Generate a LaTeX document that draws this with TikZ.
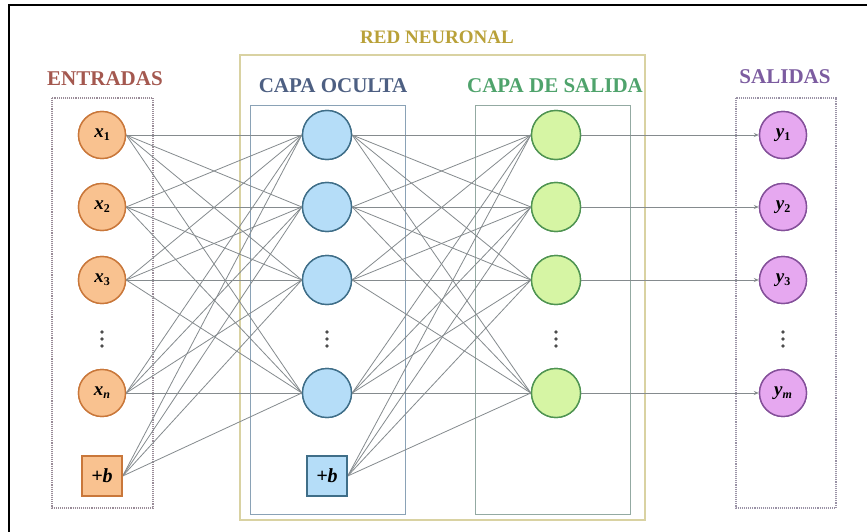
\documentclass[tikz,border=0pt]{standalone}
\usepackage{fontspec}
\setmainfont{Liberation Serif}
\usetikzlibrary{arrows.meta}
\definecolor{inF}{HTML}{F9C290}
\definecolor{inB}{HTML}{C9773A}
\definecolor{hidF}{HTML}{B5DDF8}
\definecolor{hidB}{HTML}{3F6E88}
\definecolor{outF}{HTML}{D6F5A4}
\definecolor{outB}{HTML}{4F9452}
\definecolor{yF}{HTML}{E6A8F0}
\definecolor{yB}{HTML}{84509A}
\definecolor{conn}{HTML}{858B8E}
\definecolor{labIn}{HTML}{A4584F}
\definecolor{labRed}{HTML}{B9A138}
\definecolor{labHid}{HTML}{4D5F82}
\definecolor{labOut}{HTML}{4FA36C}
\definecolor{labY}{HTML}{7C5CA0}
\definecolor{boxIn}{HTML}{9A8C98}
\definecolor{boxRed}{HTML}{D9D2A2}
\definecolor{boxHid}{HTML}{8AA2B6}
\definecolor{boxOut}{HTML}{93AAA2}
\definecolor{boxY}{HTML}{9A92A6}
\newcommand{\nv}[2]{\textbf{\textit{#1}}\raisebox{-0.35ex}{\fontsize{12}{12}\selectfont\bfseries #2}}
\begin{document}
\begin{tikzpicture}[x=1pt,y=-1pt,
  neuron/.style={circle, line width=1.4pt, minimum size=47pt, inner sep=0pt,
    font=\fontsize{19}{19}\selectfont},
  inp/.style={neuron, draw=inB, fill=inF},
  hid/.style={neuron, draw=hidB, fill=hidF, minimum size=49pt},
  outn/.style={neuron, draw=outB, fill=outF, minimum size=49pt},
  yn/.style={neuron, draw=yB, fill=yF},
  biasbox/.style={rectangle, line width=1.4pt, minimum size=40pt, inner sep=0pt,
    font=\fontsize{20}{20}\selectfont\bfseries\itshape},
  title/.style={font=\fontsize{21}{21}\selectfont\bfseries},
  groupbox/.style={line width=0.9pt},
  dotbox/.style={line width=1.1pt, densely dotted},
  wire/.style={draw=conn, line width=0.8pt},
  vdot/.style={circle, fill=black!70, inner sep=0pt, minimum size=3.6pt},
]
\useasboundingbox (0,0) rectangle (867,532);
\fill[white] (0,0) rectangle (867,532);
% border
\draw[black, line width=1.6pt] (9,540) -- (9,5) -- (872,5);

% group boxes
\draw[groupbox, draw=boxRed, line width=1.2pt] (240,55) rectangle (645,520);
\draw[dotbox, draw=boxIn] (52,98) rectangle (153,508);
\draw[groupbox, draw=boxHid] (250,105) rectangle (405,514);
\draw[groupbox, draw=boxOut] (475,105) rectangle (630,514);
\draw[dotbox, draw=boxY] (736,98) rectangle (836,508);

% titles
\node[title, text=labIn] (tIn) at (105,79) {ENTRADAS};
\node[title, text=labRed, font=\fontsize{19}{19}\selectfont\bfseries] (tRed) at (437,37) {RED NEURONAL};
\node[title, text=labHid] (tHid) at (333,86) {CAPA OCULTA};
\node[title, text=labOut] (tOut) at (555,86) {CAPA DE SALIDA};
\node[title, text=labY] (tY) at (785,77) {SALIDAS};

% nodes
\node[inp] (x1) at (102,135) {\nv{x}{1}};
\node[inp] (x2) at (102,207) {\nv{x}{2}};
\node[inp] (x3) at (102,280) {\nv{x}{3}};
\node[inp] (xn) at (102,393) {\nv{x}{\itshape n}};
\node[biasbox, draw=inB, fill=inF] (bin) at (102,476) {+b};

\node[hid] (h1) at (327,135) {};
\node[hid] (h2) at (327,207) {};
\node[hid] (h3) at (327,280) {};
\node[hid] (hn) at (327,393) {};
\node[biasbox, draw=hidB, fill=hidF] (bhid) at (327,476) {+b};

\node[outn] (o1) at (556,135) {};
\node[outn] (o2) at (556,207) {};
\node[outn] (o3) at (556,280) {};
\node[outn] (on) at (556,393) {};

\node[yn] (y1) at (783,135) {\nv{y}{1}};
\node[yn] (y2) at (783,207) {\nv{y}{2}};
\node[yn] (y3) at (783,280) {\nv{y}{3}};
\node[yn] (ym) at (783,393) {\nv{y}{\itshape m}};

% vertical dots
\foreach \cx/\nm in {102/dx,327/dh,556/do,783/dy}{
  \node[vdot] (\nm-a) at (\cx,332) {};
  \node[vdot] (\nm-b) at (\cx,339) {};
  \node[vdot] (\nm-c) at (\cx,346) {};
}

% connections
\foreach \s in {x1,x2,x3,xn,bin}{
  \foreach \t in {h1,h2,h3,hn}{
    \draw[wire] (\s.east) -- (\t.west);
  }
}
\foreach \s in {h1,h2,h3,hn,bhid}{
  \foreach \t in {o1,o2,o3,on}{
    \draw[wire] (\s.east) -- (\t.west);
  }
}
\draw[wire, -{Stealth[length=5pt,width=4pt]}] (o1.east) -- (y1.west);
\draw[wire, -{Stealth[length=5pt,width=4pt]}] (o2.east) -- (y2.west);
\draw[wire, -{Stealth[length=5pt,width=4pt]}] (o3.east) -- (y3.west);
\draw[wire, -{Stealth[length=5pt,width=4pt]}] (on.east) -- (ym.west);

% redraw nodes on top of the wires
\node[inp] at (x1) {\nv{x}{1}};
\node[inp] at (x2) {\nv{x}{2}};
\node[inp] at (x3) {\nv{x}{3}};
\node[inp] at (xn) {\nv{x}{\itshape n}};
\node[biasbox, draw=inB, fill=inF] at (bin) {+b};
\node[hid] at (h1) {};
\node[hid] at (h2) {};
\node[hid] at (h3) {};
\node[hid] at (hn) {};
\node[biasbox, draw=hidB, fill=hidF] at (bhid) {+b};
\node[outn] at (o1) {};
\node[outn] at (o2) {};
\node[outn] at (o3) {};
\node[outn] at (on) {};
\node[yn] at (y1) {\nv{y}{1}};
\node[yn] at (y2) {\nv{y}{2}};
\node[yn] at (y3) {\nv{y}{3}};
\node[yn] at (ym) {\nv{y}{\itshape m}};
\end{tikzpicture}
\end{document}
